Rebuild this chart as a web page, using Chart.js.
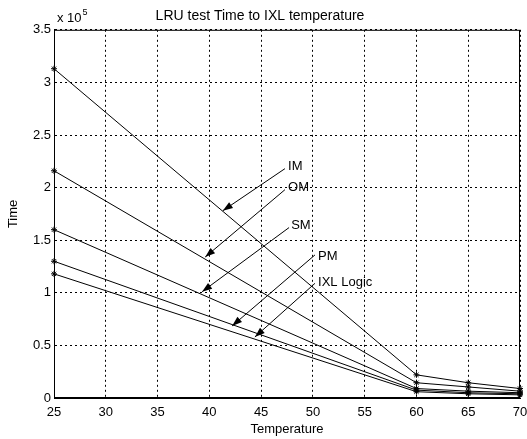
<!DOCTYPE html>
<html>
<head>
<meta charset="utf-8">
<script src="https://cdn.jsdelivr.net/npm/chart.js@4"></script>
<style>
  html, body { margin: 0; padding: 0; background: #fff; }
  #wrap { width: 527px; height: 439px; position: relative; }
</style>
</head>
<body>
<div id="wrap"><canvas id="myChart"></canvas></div>
<script>
// data (Time in seconds, scale x 10^5)
const temperatures = [25, 60, 65, 70];
const timeIM = [313000, 22000, 14500, 9000];
const timeOM = [216000, 14500, 10500, 6500];
const timeSM = [160000, 9000, 6500, 5000];
const timePM = [130000, 7500, 5000, 4000];
const timeIXL = [118000, 6000, 4000, 3000];

const xTicks = [25, 30, 35, 40, 45, 50, 55, 60, 65, 70];
const yTicks = [0, 50000, 100000, 150000, 200000, 250000, 300000, 350000];

// annotation arrows : label, text pos, arrow tail, arrow head (data coords)
const arrowLabels = ["IM", "OM", "SM", "PM", "IXL Logic"];
const labelPos = [[47.6, 220000], [47.6, 200000], [47.9, 164000], [50.5, 135000], [50.5, 109500]];
const arrowTail = [[47.3, 218000], [47.3, 198000], [47.7, 162000], [50.2, 136000], [50.2, 109000]];
const arrowHead = [[41.3, 178000], [39.6, 134000], [39.3, 101000], [42.2, 68500], [44.4, 58000]];

const FONT = "'Liberation Sans', Arial, sans-serif";

function toPoints(ys) {
  return temperatures.map((t, i) => ({ x: t, y: ys[i] }));
}

function series(label, ys) {
  return {
    label: label,
    data: toPoints(ys),
    borderColor: "#000",
    backgroundColor: "#000",
    borderWidth: 1,
    pointStyle: "star",
    pointRadius: 3,
    pointBorderWidth: 1,
    fill: false,
    tension: 0,
    clip: false,
  };
}

// plugin : box, x10^5 exponent, arrows with labels
const extras = {
  id: "extras",
  afterDraw(chart) {
    const { ctx, chartArea, scales } = chart;
    const xs = scales.x;
    const ys = scales.y;
    ctx.save();
    ctx.strokeStyle = "#000";
    ctx.lineWidth = 1;
    ctx.strokeRect(chartArea.left + 0.5, chartArea.top + 0.5,
      chartArea.right - chartArea.left - 1, chartArea.bottom - chartArea.top - 1);

    // exponent
    ctx.fillStyle = "#000";
    ctx.textBaseline = "alphabetic";
    ctx.textAlign = "left";
    ctx.font = "13px " + FONT;
    ctx.fillText("x 10", chartArea.left + 3, 22);
    const w = ctx.measureText("x 10").width;
    ctx.font = "9px " + FONT;
    ctx.fillText("5", chartArea.left + 3 + w + 1, 15);

    // arrows
    arrowLabels.forEach((lab, i) => {
      const tx = xs.getPixelForValue(arrowTail[i][0]);
      const ty = ys.getPixelForValue(arrowTail[i][1]);
      const hx = xs.getPixelForValue(arrowHead[i][0]);
      const hy = ys.getPixelForValue(arrowHead[i][1]);
      ctx.beginPath();
      ctx.moveTo(tx, ty);
      ctx.lineTo(hx, hy);
      ctx.stroke();
      const ang = Math.atan2(hy - ty, hx - tx);
      const len = 10, half = 3.5;
      const bx = hx - len * Math.cos(ang);
      const by = hy - len * Math.sin(ang);
      ctx.beginPath();
      ctx.moveTo(hx, hy);
      ctx.lineTo(bx + half * Math.sin(ang), by - half * Math.cos(ang));
      ctx.lineTo(bx - half * Math.sin(ang), by + half * Math.cos(ang));
      ctx.closePath();
      ctx.fill();

      ctx.font = "13px " + FONT;
      ctx.textBaseline = "middle";
      ctx.fillText(lab, xs.getPixelForValue(labelPos[i][0]), ys.getPixelForValue(labelPos[i][1]));
    });
    ctx.restore();
  },
};

const ctx = document.getElementById("myChart").getContext("2d");

const myChart = new Chart(ctx, {
  type: "line",
  data: {
    datasets: [
      series("IM", timeIM),
      series("OM", timeOM),
      series("SM", timeSM),
      series("PM", timePM),
      series("IXL Logic", timeIXL),
    ],
  },
  options: {
    responsive: true,
    maintainAspectRatio: false,
    animation: false,
    layout: { padding: { left: 0, right: 7, top: 0, bottom: 0 } },
    plugins: {
      legend: { display: false },
      tooltip: { enabled: false },
      title: {
        display: true,
        text: "LRU test Time to IXL temperature",
        color: "#000",
        font: { family: FONT, size: 14, weight: "normal", lineHeight: 1.2 },
        padding: { top: 8, bottom: 5 },
      },
    },
    scales: {
      x: {
        type: "linear",
        min: 25,
        max: 70,
        afterBuildTicks: (scale) => {
          scale.ticks = xTicks.map((v) => ({ value: v }));
        },
        afterFit: (scale) => {
          scale.height = 41;
          scale.paddingLeft = 0;
          scale.paddingRight = 0;
        },
        grid: { color: "#000", lineWidth: 1, drawTicks: false },
        border: { display: true, color: "#000", width: 1, dash: [2, 3] },
        ticks: {
          color: "#000",
          padding: 7,
          maxRotation: 0,
          font: { family: FONT, size: 13 },
        },
        title: {
          display: true,
          text: "Temperature",
          color: "#000",
          font: { family: FONT, size: 13 },
          padding: { top: 0, bottom: 2 },
        },
      },
      y: {
        type: "linear",
        min: 0,
        max: 350000,
        afterBuildTicks: (scale) => {
          scale.ticks = yTicks.map((v) => ({ value: v }));
        },
        afterFit: (scale) => {
          scale.width = 54;
        },
        grid: { color: "#000", lineWidth: 1, drawTicks: false },
        border: { display: true, color: "#000", width: 1, dash: [2, 3] },
        ticks: {
          color: "#000",
          padding: 3,
          font: { family: FONT, size: 13 },
          callback: (v) => String(v / 100000),
        },
        title: {
          display: true,
          text: "Time",
          color: "#000",
          font: { family: FONT, size: 13 },
          padding: { top: 6, bottom: 0 },
        },
      },
    },
  },
  plugins: [extras],
});
</script>
</body>
</html>
